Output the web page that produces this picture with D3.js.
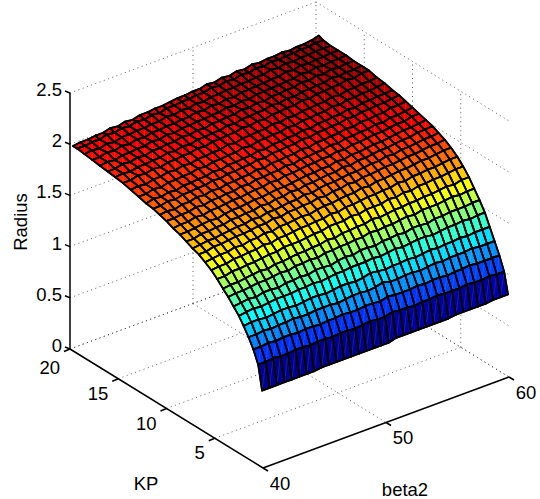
<!DOCTYPE html>
<html><head><meta charset="utf-8">
<script src="https://cdn.jsdelivr.net/npm/d3@7"></script>
<style>html,body{margin:0;padding:0;background:#fff}svg{display:block}text{font-family:"Liberation Sans",Arial,sans-serif;fill:#000}</style>
</head><body><svg id="c" width="540" height="499"></svg>
<script>
const kpValues=[.1,.5,1,1.5,2,2.5,3.05,3.6,4.15,4.75,5.35,6,6.65,7.3,7.95,8.6,9.3,10,10.7,11.4,12.1,12.9,13.7,14.5,15.3,16.1,16.9,17.7,18.5,19.25,19.7];
const betaValues=[40,40.61,41.21,41.82,42.42,43.03,43.64,44.24,44.85,45.45,46.06,46.67,47.27,47.88,48.48,49.09,49.7,50.3,50.91,51.52,52.12,52.73,53.33,53.94,54.55,55.15,55.76,56.36,56.97,57.58,58.18,58.79,59.39,60];
// Radius x 100, one row per KP value, one column per beta2 value
const radius=[
[75,75,75,75,75,75,75,75,76,76,76,76,76,76,76,76,76,76,78,78,78,78,78,78,78,78,79,79,79,79,79,80,80,80],
[98,98,99,98,98,99,99,98,99,99,98,99,99,98,99,100,99,99,101,100,100,99,100,100,101,100,100,100,101,100,100,101,100,100],
[110,110,111,110,111,111,110,111,111,110,111,111,112,111,111,112,112,111,113,112,112,112,113,112,113,113,112,113,113,114,113,113,113,113],
[119,119,120,119,120,120,121,120,120,121,121,121,120,121,122,122,121,122,124,122,122,123,123,122,123,124,123,124,124,124,125,124,124,124],
[127,128,128,127,128,129,129,128,129,130,130,129,130,131,131,130,131,133,132,131,132,132,133,132,133,134,133,134,134,135,134,135,135,135],
[134,135,136,135,136,137,137,137,138,138,139,138,139,140,140,141,141,141,142,141,142,143,142,143,144,144,143,144,145,145,146,145,146,146],
[140,141,142,141,143,143,142,144,144,145,144,146,146,145,147,148,147,149,149,148,150,150,151,150,152,152,151,153,153,154,154,154,155,155],
[146,147,147,148,149,149,150,151,150,152,152,153,152,154,154,155,155,156,156,158,157,158,158,159,160,159,161,161,161,162,163,162,163,163],
[151,152,152,153,154,155,154,156,156,157,158,158,159,159,161,160,162,162,163,163,165,164,165,166,166,167,167,168,168,169,170,169,171,171],
[157,157,159,159,160,160,161,162,162,164,164,164,165,166,166,168,168,168,170,169,171,171,171,173,172,174,173,175,175,176,176,177,178,178],
[162,163,163,165,165,166,166,168,167,169,169,170,171,171,172,172,174,173,175,175,176,177,177,178,178,180,179,181,181,182,182,183,184,184],
[166,167,168,168,170,169,171,171,173,172,174,174,175,176,175,177,178,178,179,180,180,182,181,183,183,184,185,185,186,187,187,188,189,189],
[170,170,172,172,173,174,174,175,176,176,178,177,179,179,180,180,182,181,183,183,185,184,186,186,187,188,188,189,190,190,191,192,192,193],
[172,173,174,174,175,176,177,177,179,178,180,180,181,182,182,184,183,185,186,186,187,188,188,189,190,190,192,191,193,193,194,195,195,196],
[175,175,177,177,178,178,180,180,181,181,183,182,184,184,186,185,187,187,188,189,189,191,190,192,192,193,194,194,195,196,196,198,198,199],
[178,178,179,180,181,180,182,183,183,184,185,185,186,187,187,188,189,190,190,191,191,193,192,194,194,195,196,196,197,198,199,199,200,201],
[180,181,181,183,182,184,184,185,186,186,187,188,188,190,189,191,191,192,193,193,194,194,196,195,197,197,198,199,199,200,201,201,203,203],
[183,183,184,184,186,185,187,187,188,188,190,189,191,191,192,192,194,193,195,195,196,196,198,197,199,199,200,200,202,201,203,203,204,205],
[185,186,185,187,187,189,188,190,189,191,191,192,192,194,193,195,195,196,196,198,197,199,199,200,200,202,201,203,203,204,204,206,206,207],
[187,187,189,188,190,190,191,191,193,192,194,194,195,195,197,196,198,198,199,199,201,200,202,202,203,203,205,204,206,206,207,207,208,209],
[188,190,189,191,190,192,192,193,193,195,194,196,196,197,197,199,198,200,200,201,201,203,202,204,204,205,205,207,206,208,208,209,209,210],
[190,190,192,191,193,193,194,194,196,195,197,197,198,198,200,199,201,201,202,202,204,203,205,205,206,206,208,207,209,209,210,210,211,212],
[192,193,192,194,194,196,195,197,196,198,198,199,199,201,200,202,202,203,203,205,204,206,205,207,207,208,208,210,209,211,211,212,212,213],
[194,194,196,195,197,196,198,198,199,199,201,200,202,202,203,203,205,204,206,205,207,207,208,208,210,209,211,211,212,212,214,213,215,215],
[195,196,195,197,197,198,198,200,199,201,200,202,202,203,203,205,204,206,206,207,207,209,208,210,209,211,211,212,212,214,213,214,214,215],
[196,196,198,197,199,198,200,200,201,201,203,202,204,203,205,205,206,206,208,207,209,208,210,210,211,211,213,212,214,213,215,214,215,215],
[197,198,197,199,199,200,200,202,201,203,202,204,204,205,205,206,206,208,207,209,208,210,210,211,211,212,212,214,213,215,214,215,215,216],
[198,198,200,199,201,200,202,201,203,203,204,204,205,205,207,206,208,207,209,208,210,210,211,211,212,212,214,213,215,214,215,215,216,216],
[199,200,199,201,200,202,202,203,203,204,204,206,205,207,206,208,207,209,209,210,210,211,211,212,212,214,213,215,214,215,215,216,216,216],
[200,200,201,201,203,202,204,203,205,204,206,205,207,207,208,208,209,209,211,210,212,211,213,212,214,213,215,214,215,215,216,216,217,217],
[200,201,201,202,202,204,203,205,204,206,206,207,207,208,209,209,210,210,212,211,213,212,214,213,215,214,215,215,216,215,216,216,217,219]
];
const kpTicks=[5,10,15,20];
const betaTicks=[40,50,60];
const radiusTicks=[0,.5,1,1.5,2,2.5];
const radiusTickLabels=["0","0.5","1","1.5","2","2.5"];
const jetStops=[0,.11,.365,.615,.865,1];
const jetColors=["#00008f","#0000ff","#00ffff","#ffff00","#ff0000","#800000"];

const svg=d3.select("#c");
const xK=d3.scaleLinear([20,0],[70,263]),xB=d3.scaleLinear([40,60],[0,246]);
const yK=d3.scaleLinear([20,0],[349,468]),yB=d3.scaleLinear([40,60],[0,-91]),yZ=d3.scaleLinear([0,2.5],[0,-256]);
const P=(k,b,z)=>[xK(k)+xB(b),yK(k)+yB(b)+yZ(z)];
const line=d3.line();
const grid=svg.append("g").attr("fill","none").attr("stroke","#333").attr("stroke-width",.8).attr("stroke-dasharray","1 3.5");
const seg=(a,b)=>grid.append("path").attr("d",line([a,b]));
const zMax=radiusTicks[radiusTicks.length-1];
radiusTicks.forEach(z=>{seg(P(20,40,z),P(20,60,z));seg(P(20,60,z),P(0,60,z));});
kpTicks.forEach(k=>{seg(P(k,40,0),P(k,60,0));if(k<20)seg(P(k,60,0),P(k,60,zMax));});
betaTicks.forEach(b=>{seg(P(20,b,0),P(0,b,0));if(b>40)seg(P(20,b,0),P(20,b,zMax));});

const all=radius.flat(),zmin=d3.min(all),zmax=d3.max(all);
const t=d3.scaleLinear([zmin,zmax],[0,1]);
const jet=d3.scaleLinear(jetStops,jetColors);
const faces=[];
for(let i=kpValues.length-2;i>=0;i--)for(let j=betaValues.length-2;j>=0;j--)faces.push([i,j]);
const c=(a,b)=>P(kpValues[a],betaValues[b],radius[a][b]/100);
const fg=svg.append("g").selectAll("g").data(faces).join("g");
fg.append("path")
 .attr("d",([i,j])=>line([c(i,j),c(i+1,j),c(i+1,j+1),c(i,j+1)])+"Z")
 .attr("fill",([i,j])=>jet(Math.min(63,Math.floor(t(radius[i][j])*64))/63))
 .attr("stroke","#000").attr("stroke-width",1.7).attr("stroke-linejoin","round");
fg.append("path")
 .attr("d",([i,j])=>line([c(i,j),c(i+1,j+1)]))
 .attr("fill","none").attr("stroke","#fff").attr("stroke-opacity",.16).attr("stroke-width",.7);
fg.append("path")
 .attr("d",([i,j])=>line([c(i,j),c(i+1,j),c(i+1,j+1),c(i,j+1)])+"Z")
 .attr("fill","none").attr("stroke","#000").attr("stroke-width",1.7).attr("stroke-linejoin","round");

const ax=svg.append("g").attr("fill","none").attr("stroke","#000").attr("stroke-width",1.5);
const axl=(a,b)=>ax.append("path").attr("d",line([a,b]));
axl(P(20,40,0),P(20,40,zMax));axl(P(20,40,0),P(0,40,0));axl(P(0,40,0),P(0,60,0));
const off=(p,dx,dy)=>[p[0]+dx,p[1]+dy];
radiusTicks.forEach(z=>{const p=P(20,40,z);axl(p,off(p,-5,-2));});
kpTicks.forEach(k=>{const p=P(k,40,0);axl(p,off(p,-6,2.5));});
betaTicks.forEach(b=>{const p=P(0,b,0);axl(p,off(p,5,3));});

const size=18.5;
const label=(x,y,s,anchor)=>svg.append("text").attr("x",x).attr("y",y).attr("text-anchor",anchor).attr("dominant-baseline","central").attr("font-size",size).text(s);
radiusTicks.forEach((z,i)=>{const p=P(20,40,z);label(62,p[1]-3.5,radiusTickLabels[i],"end");});
kpTicks.forEach(k=>{const p=P(k,40,0);label(p[0]-10,p[1]+(k===20?18:14.5),String(k),"end");});
betaTicks.forEach(b=>{const p=P(0,b,0);label(p[0]+17,p[1]+15,String(b),"middle");});
label(146,483,"KP","middle");
label(405,489,"beta2","middle");
svg.append("text").attr("transform","translate(20,222) rotate(-90)").attr("text-anchor","middle").attr("dominant-baseline","central").attr("font-size",size).text("Radius");
</script></body></html>
